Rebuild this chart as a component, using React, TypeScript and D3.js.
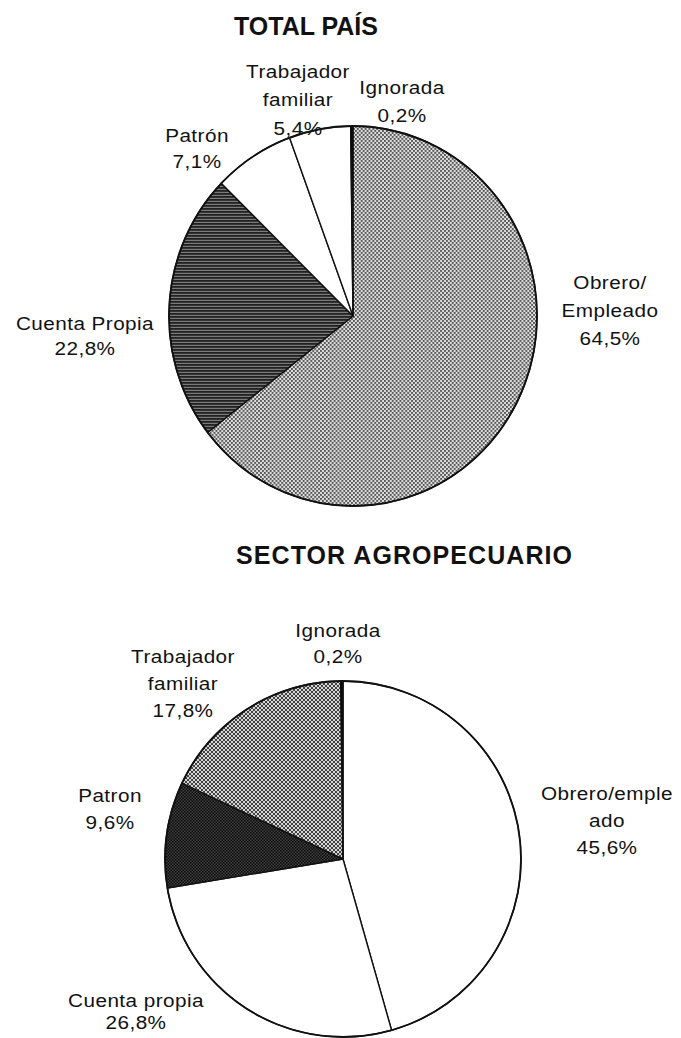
import React, { useEffect, useRef } from 'react';
import * as d3 from 'd3';

// datos: categoría ocupacional, en porcentaje
const totalCategories = ['Obrero/Empleado', 'Cuenta Propia', 'Patrón', 'Trabajador familiar', 'Ignorada'];
const totalValues = [64.5, 22.8, 7.1, 5.4, 0.2];
const totalLabelLines = [['Obrero/', 'Empleado'], ['Cuenta Propia'], ['Patrón'], ['Trabajador', 'familiar'], ['Ignorada']];

const agroCategories = ['Obrero/empleado', 'Cuenta propia', 'Patron', 'Trabajador familiar', 'Ignorada'];
const agroValues = [45.6, 26.8, 9.6, 17.8, 0.2];
const agroLabelLines = [['Obrero/emple', 'ado'], ['Cuenta propia'], ['Patron'], ['Trabajador', 'familiar'], ['Ignorada']];

const titles = ['TOTAL PAÍS', 'SECTOR AGROPECUARIO'];

const App = () => {
    const svgRef = useRef<SVGSVGElement>(null);

    useEffect(() => {
        const svg = d3.select(svgRef.current);
        svg.selectAll('*').remove();

        const fontFamily = '"Liberation Sans", Arial, Helvetica, sans-serif';

        // tramas (patterns) como en el impreso
        const defs = svg.append('defs');

        const dots = (id, bg, fg, size, dot) => {
            const p = defs.append('pattern')
                .attr('id', id)
                .attr('patternUnits', 'userSpaceOnUse')
                .attr('width', size)
                .attr('height', size);
            p.append('rect').attr('width', size).attr('height', size).attr('fill', bg);
            p.append('rect').attr('x', 0).attr('y', 0).attr('width', dot).attr('height', dot).attr('fill', fg);
            p.append('rect').attr('x', size / 2).attr('y', size / 2).attr('width', dot).attr('height', dot).attr('fill', fg);
        };
        dots('dotLight', '#dcdcdc', '#555', 4, 1.9);
        dots('dotMid', '#d4d4d4', '#444', 4, 2);
        dots('dotDark', '#404040', '#0d0d0d', 3, 1.6);

        const lines = defs.append('pattern')
            .attr('id', 'hLines')
            .attr('patternUnits', 'userSpaceOnUse')
            .attr('width', 6)
            .attr('height', 3);
        lines.append('rect').attr('width', 6).attr('height', 3).attr('fill', '#7a7a7a');
        lines.append('rect').attr('width', 6).attr('height', 1.8).attr('fill', '#222');

        const fmt = (v) => d3.format('.1f')(v).replace('.', ',') + '%';

        // layout de cada gráfico
        const charts = [
            {
                title: titles[0], titleX: 306, titleY: 35, titleLen: null,
                cx: 353, cy: 316, r: 190, sx: 184 / 190,
                values: totalValues, cats: totalCategories, lines: totalLabelLines,
                fills: ['url(#dotLight)', 'url(#hLines)', '#fff', '#fff', '#000'],
                labels: [
                    { x: 610, y: 289, lh: 28 },
                    { x: 85, y: 330, lh: 25 },
                    { x: 197, y: 142, lh: 26 },
                    { x: 298, y: 78, lh: 28.5 },
                    { x: 402, y: 94, lh: 28 }
                ]
            },
            {
                title: titles[1], titleX: 404, titleY: 564, titleLen: 336,
                cx: 343, cy: 859, r: 178, sx: 1,
                values: agroValues, cats: agroCategories, lines: agroLabelLines,
                fills: ['#fff', '#fff', 'url(#dotDark)', 'url(#dotMid)', '#000'],
                labels: [
                    { x: 607, y: 800, lh: 27 },
                    { x: 136, y: 1007, lh: 22 },
                    { x: 110, y: 802, lh: 27 },
                    { x: 183, y: 663, lh: 27 },
                    { x: 338, y: 637, lh: 26 }
                ]
            }
        ];

        charts.forEach((c) => {
            // título
            const t = svg.append('text')
                .attr('x', c.titleX)
                .attr('y', c.titleY)
                .attr('text-anchor', 'middle')
                .attr('font-family', fontFamily)
                .attr('font-weight', 'bold')
                .attr('font-size', '25px')
                .attr('fill', '#111')
                .text(c.title);
            if (c.titleLen) t.attr('textLength', c.titleLen).attr('lengthAdjust', 'spacing');

            const pie = d3.pie<number>().sort(null).value(d => d);
            const arc = d3.arc<d3.PieArcDatum<number>>().innerRadius(0).outerRadius(c.r);
            const arcs = pie(c.values);

            const g = svg.append('g')
                .attr('transform', `translate(${c.cx},${c.cy}) scale(${c.sx},1)`);

            g.selectAll('path.slice')
                .data(arcs)
                .join('path')
                .attr('class', 'slice')
                .attr('d', arc)
                .attr('fill', (d, i) => c.fills[i])
                .attr('stroke', '#111')
                .attr('stroke-width', 1.4)
                .attr('stroke-linejoin', 'round')
                .attr('vector-effect', 'non-scaling-stroke');

            // contorno exterior
            g.append('circle')
                .attr('r', c.r)
                .attr('fill', 'none')
                .attr('stroke', '#111')
                .attr('stroke-width', 1.8)
                .attr('vector-effect', 'non-scaling-stroke');

            // etiquetas
            c.labels.forEach((pos, i) => {
                const rows = [...c.lines[i], fmt(c.values[i])];
                const lg = svg.append('g')
                    .attr('transform', `translate(${pos.x},${pos.y}) scale(1.12,1)`);
                const txt = lg.append('text')
                    .attr('text-anchor', 'middle')
                    .attr('font-family', fontFamily)
                    .attr('font-size', '18.5px')
                    .attr('letter-spacing', '0.4px')
                    .attr('fill', '#111');
                rows.forEach((row, k) => {
                    txt.append('tspan')
                        .attr('x', 0)
                        .attr('y', k * pos.lh)
                        .text(row);
                });
            });
        });
    }, []);

    return (
        <svg
            ref={svgRef}
            width={681}
            height={1038}
            style={{ position: 'absolute', left: 0, top: 0, background: '#fff' }}
        ></svg>
    );
};

export default App;
